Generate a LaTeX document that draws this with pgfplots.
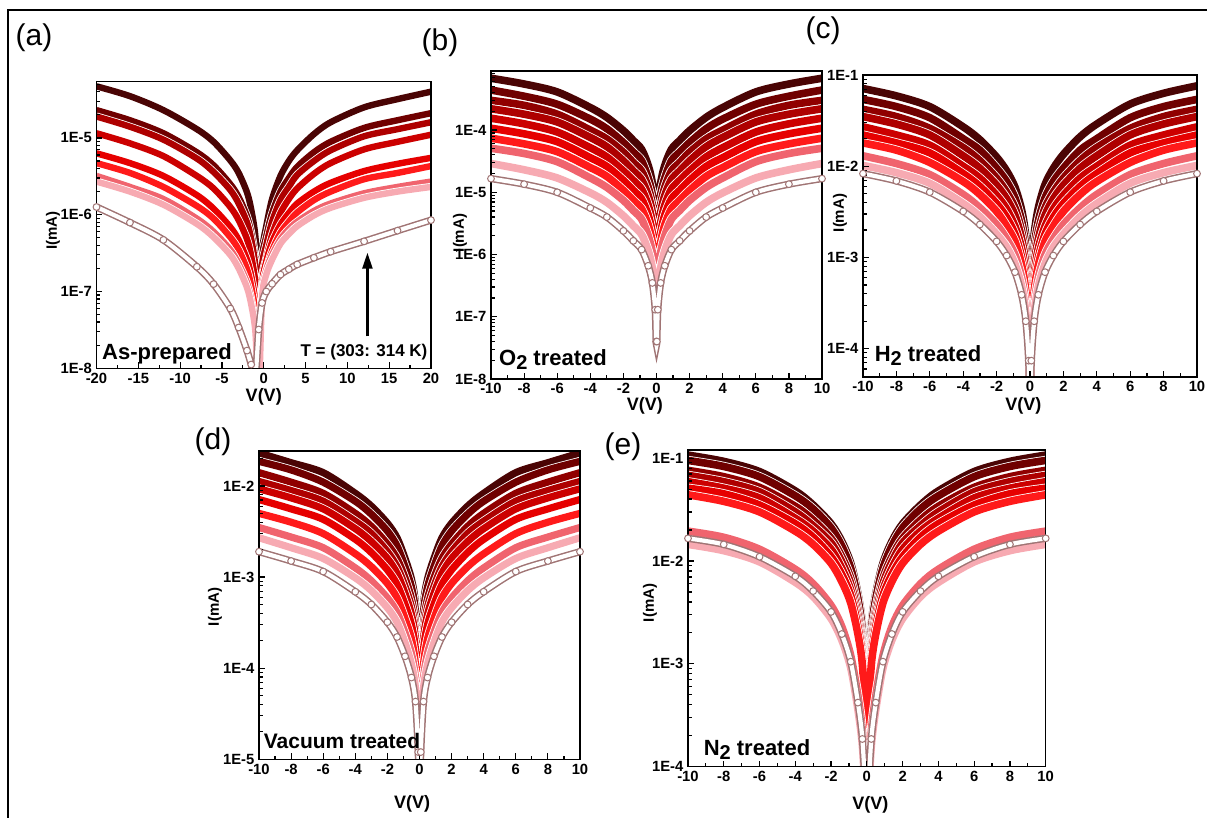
\documentclass[border=0pt]{standalone}
\usepackage{fontspec}
\setmainfont{Liberation Sans}
\usepackage{pgfplots}
\pgfplotsset{compat=1.18}
\usepackage{pgfplotstable}
\usetikzlibrary{arrows.meta}

\definecolor{k1}{HTML}{4A0404}
\definecolor{k2}{HTML}{700000}
\definecolor{k3}{HTML}{900000}
\definecolor{k4}{HTML}{AE0000}
\definecolor{k5}{HTML}{CC0000}
\definecolor{k6}{HTML}{E60000}
\definecolor{k7}{HTML}{FF1A1A}
\definecolor{k8}{HTML}{F0646E}
\definecolor{k9}{HTML}{F7AAB2}
\definecolor{ocol}{HTML}{A07474}

% (a) as-prepared, V from -20 to 20
\pgfplotstableread{
V k1 k2 k4 k5 k6 k7 k8 k9 o
-20 4.7e-5 2.3e-5 1.9e-5 1.15e-5 6.3e-6 4.7e-6 3.2e-6 2.7e-6 1.26e-6
-16 3.5e-5 1.7e-5 1.4e-5 8.5e-6 4.7e-6 3.5e-6 2.3e-6 2.0e-6 7.9e-7
-12 2.3e-5 1.15e-5 9.5e-6 5.8e-6 3.2e-6 2.3e-6 1.6e-6 1.35e-6 4.7e-7
-8 1.3e-5 6.5e-6 5.4e-6 3.2e-6 1.8e-6 1.3e-6 8.9e-7 7.6e-7 2.1e-7
-6 8.9e-6 4.4e-6 3.6e-6 2.2e-6 1.2e-6 8.9e-7 6.0e-7 5.1e-7 1.25e-7
-4 5.1e-6 2.5e-6 2.1e-6 1.26e-6 6.9e-7 5.1e-7 3.5e-7 3.0e-7 6.0e-8
-3 3.5e-6 1.7e-6 1.4e-6 8.5e-7 4.7e-7 3.5e-7 2.3e-7 2.0e-7 3.4e-8
-2 1.95e-6 9.5e-7 7.9e-7 4.8e-7 2.6e-7 1.95e-7 1.3e-7 1.12e-7 1.7e-8
-1.5 1.17e-6 5.8e-7 4.8e-7 2.9e-7 1.6e-7 1.17e-7 7.9e-8 6.8e-8 1.12e-8
-1 5.2e-7 2.6e-7 2.1e-7 1.3e-7 7.1e-8 5.2e-8 3.5e-8 3.0e-8 7.9e-9
-0.6 1.0e-7 5.0e-8 4.0e-8 3.2e-8 1.6e-8 1.0e-8 6.3e-9 5.0e-9 3.2e-8
-0.2 3.5e-7 2.8e-7 2.2e-7 1.5e-7 1.23e-7 9.5e-8 9.5e-8 8.3e-8 7.1e-8
0.3 7.1e-7 5.2e-7 4.0e-7 2.7e-7 2.45e-7 1.9e-7 1.9e-7 1.66e-7 1.0e-7
1 1.6e-6 1.05e-6 8.1e-7 5.5e-7 4.4e-7 3.4e-7 3.0e-7 2.6e-7 1.26e-7
2 3.2e-6 2.0e-6 1.55e-6 1.05e-6 7.4e-7 5.8e-7 4.8e-7 4.2e-7 1.66e-7
3 5.0e-6 3.0e-6 2.3e-6 1.6e-6 1.05e-6 8.1e-7 6.5e-7 5.6e-7 1.95e-7
4 6.9e-6 4.2e-6 3.3e-6 2.2e-6 1.4e-6 1.07e-6 8.1e-7 7.1e-7 2.25e-7
6 1.12e-5 6.5e-6 5.0e-6 3.4e-6 2.0e-6 1.55e-6 1.12e-6 9.8e-7 2.75e-7
8 1.6e-5 8.9e-6 6.9e-6 4.7e-6 2.6e-6 2.0e-6 1.4e-6 1.23e-6 3.3e-7
12 2.5e-5 1.35e-5 1.05e-5 7.1e-6 3.7e-6 2.9e-6 1.9e-6 1.66e-6 4.5e-7
16 3.2e-5 1.7e-5 1.3e-5 8.9e-6 4.6e-6 3.5e-6 2.3e-6 2.0e-6 6.2e-7
20 4.0e-5 2.1e-5 1.6e-5 1.1e-5 5.5e-6 4.3e-6 2.7e-6 2.3e-6 8.5e-7
}\tabA

% (b) O2 treated
\pgfplotstableread{
V k1 k2 k3 k4 k5 k6 k7 k8 k9 o
-10 6.8e-4 4.4e-4 3.0e-4 2.2e-4 1.55e-4 1.07e-4 7.4e-5 5.1e-5 2.9e-5 1.66e-5
-8 5.5e-4 3.5e-4 2.5e-4 1.8e-4 1.26e-4 8.7e-5 6.0e-5 4.2e-5 2.3e-5 1.35e-5
-6 4.1e-4 2.6e-4 1.8e-4 1.35e-4 9.3e-5 6.5e-5 4.5e-5 3.1e-5 1.7e-5 1.0e-5
-4 2.3e-4 1.5e-4 1.0e-4 7.6e-5 5.2e-5 3.6e-5 2.5e-5 1.7e-5 9.8e-6 5.6e-6
-3 1.6e-4 1.05e-4 7.2e-5 5.4e-5 3.7e-5 2.6e-5 1.8e-5 1.2e-5 6.9e-6 4.0e-6
-2 9.8e-5 6.3e-5 4.4e-5 3.2e-5 2.2e-5 1.55e-5 1.07e-5 7.4e-6 4.2e-6 2.4e-6
-1.4 6.8e-5 4.4e-5 3.0e-5 2.2e-5 1.55e-5 1.07e-5 7.4e-6 5.1e-6 2.9e-6 1.66e-6
-0.9 4.9e-5 3.2e-5 2.2e-5 1.6e-5 1.12e-5 7.8e-6 5.4e-6 3.7e-6 2.1e-6 1.2e-6
-0.5 2.7e-5 1.7e-5 1.2e-5 8.9e-6 6.2e-6 4.3e-6 3.0e-6 2.0e-6 1.15e-6 6.6e-7
-0.25 1.4e-5 9.1e-6 6.3e-6 4.7e-6 3.2e-6 2.2e-6 1.55e-6 1.07e-6 6.0e-7 3.5e-7
-0.08 5.4e-6 3.5e-6 2.4e-6 1.8e-6 1.2e-6 8.5e-7 5.9e-7 4.1e-7 2.3e-7 1.3e-7
-0.02 1.6e-6 1.05e-6 7.2e-7 5.4e-7 3.6e-7 2.6e-7 1.8e-7 1.2e-7 7.0e-8 4.0e-8
0.02 1.6e-6 1.05e-6 7.2e-7 5.4e-7 3.6e-7 2.6e-7 1.8e-7 1.2e-7 7.0e-8 4.0e-8
0.08 5.4e-6 3.5e-6 2.4e-6 1.8e-6 1.2e-6 8.5e-7 5.9e-7 4.1e-7 2.3e-7 1.3e-7
0.25 1.4e-5 9.1e-6 6.3e-6 4.7e-6 3.2e-6 2.2e-6 1.55e-6 1.07e-6 6.0e-7 3.5e-7
0.5 2.7e-5 1.7e-5 1.2e-5 8.9e-6 6.2e-6 4.3e-6 3.0e-6 2.0e-6 1.15e-6 6.6e-7
0.9 4.9e-5 3.2e-5 2.2e-5 1.6e-5 1.12e-5 7.8e-6 5.4e-6 3.7e-6 2.1e-6 1.2e-6
1.4 6.8e-5 4.4e-5 3.0e-5 2.2e-5 1.55e-5 1.07e-5 7.4e-6 5.1e-6 2.9e-6 1.66e-6
2 9.8e-5 6.3e-5 4.4e-5 3.2e-5 2.2e-5 1.55e-5 1.07e-5 7.4e-6 4.2e-6 2.4e-6
3 1.6e-4 1.05e-4 7.2e-5 5.4e-5 3.7e-5 2.6e-5 1.8e-5 1.2e-5 6.9e-6 4.0e-6
4 2.3e-4 1.5e-4 1.0e-4 7.6e-5 5.2e-5 3.6e-5 2.5e-5 1.7e-5 9.8e-6 5.6e-6
6 4.1e-4 2.6e-4 1.8e-4 1.35e-4 9.3e-5 6.5e-5 4.5e-5 3.1e-5 1.7e-5 1.0e-5
8 5.5e-4 3.5e-4 2.5e-4 1.8e-4 1.26e-4 8.7e-5 6.0e-5 4.2e-5 2.3e-5 1.35e-5
10 6.8e-4 4.4e-4 3.0e-4 2.2e-4 1.55e-4 1.07e-4 7.4e-5 5.1e-5 2.9e-5 1.66e-5
}\tabB

% (c) H2 treated
\pgfplotstableread{
V k1 k2 k3 k4 k5 k6 k7 k8 k9 o
-10 7.1e-2 5.4e-2 4.2e-2 3.5e-2 2.7e-2 2.2e-2 1.8e-2 1.3e-2 1.02e-2 8.3e-3
-8 5.9e-2 4.5e-2 3.5e-2 2.9e-2 2.2e-2 1.8e-2 1.5e-2 1.07e-2 8.5e-3 6.9e-3
-6 4.5e-2 3.4e-2 2.6e-2 2.2e-2 1.7e-2 1.4e-2 1.1e-2 8.1e-3 6.5e-3 5.2e-3
-4 2.7e-2 2.0e-2 1.6e-2 1.3e-2 1.0e-2 8.3e-3 6.8e-3 4.9e-3 3.9e-3 3.2e-3
-3 1.95e-2 1.5e-2 1.15e-2 9.5e-3 7.4e-3 6.0e-3 4.9e-3 3.5e-3 2.8e-3 2.3e-3
-2 1.26e-2 9.5e-3 7.4e-3 6.2e-3 4.8e-3 3.9e-3 3.2e-3 2.3e-3 1.8e-3 1.5e-3
-1.4 8.9e-3 6.8e-3 5.2e-3 4.4e-3 3.4e-3 2.75e-3 2.2e-3 1.6e-3 1.3e-3 1.05e-3
-0.9 5.9e-3 4.5e-3 3.5e-3 2.9e-3 2.2e-3 1.8e-3 1.5e-3 1.07e-3 8.5e-4 6.9e-4
-0.5 3.3e-3 2.5e-3 1.95e-3 1.6e-3 1.26e-3 1.0e-3 8.3e-4 6.0e-4 4.8e-4 3.9e-4
-0.25 1.7e-3 1.3e-3 1.0e-3 8.3e-4 6.5e-4 5.2e-4 4.3e-4 3.1e-4 2.45e-4 2.0e-4
-0.08 6.3e-4 4.8e-4 3.7e-4 3.1e-4 2.4e-4 1.95e-4 1.6e-4 1.15e-4 9.1e-5 7.4e-5
-0.02 1.9e-4 1.45e-4 1.1e-4 9.3e-5 7.2e-5 5.9e-5 4.8e-5 3.5e-5 2.7e-5 2.2e-5
0.02 2.0e-4 1.45e-4 1.1e-4 9.3e-5 7.2e-5 5.9e-5 4.8e-5 3.5e-5 2.7e-5 2.2e-5
0.08 6.7e-4 4.8e-4 3.7e-4 3.1e-4 2.4e-4 1.95e-4 1.6e-4 1.15e-4 9.1e-5 7.4e-5
0.25 1.8e-3 1.3e-3 1.0e-3 8.3e-4 6.5e-4 5.2e-4 4.3e-4 3.1e-4 2.45e-4 2.0e-4
0.5 3.5e-3 2.5e-3 1.95e-3 1.6e-3 1.26e-3 1.0e-3 8.3e-4 6.0e-4 4.8e-4 3.9e-4
0.9 6.3e-3 4.5e-3 3.5e-3 2.9e-3 2.2e-3 1.8e-3 1.5e-3 1.07e-3 8.5e-4 6.9e-4
1.4 9.5e-3 6.8e-3 5.2e-3 4.4e-3 3.4e-3 2.75e-3 2.2e-3 1.6e-3 1.3e-3 1.05e-3
2 1.35e-2 9.5e-3 7.4e-3 6.2e-3 4.8e-3 3.9e-3 3.2e-3 2.3e-3 1.8e-3 1.5e-3
3 2.1e-2 1.5e-2 1.15e-2 9.5e-3 7.4e-3 6.0e-3 4.9e-3 3.5e-3 2.8e-3 2.3e-3
4 2.9e-2 2.0e-2 1.6e-2 1.3e-2 1.0e-2 8.3e-3 6.8e-3 4.9e-3 3.9e-3 3.2e-3
6 4.8e-2 3.4e-2 2.6e-2 2.2e-2 1.7e-2 1.4e-2 1.1e-2 8.1e-3 6.5e-3 5.2e-3
8 6.3e-2 4.5e-2 3.5e-2 2.9e-2 2.2e-2 1.8e-2 1.5e-2 1.07e-2 8.5e-3 6.9e-3
10 7.6e-2 5.4e-2 4.2e-2 3.5e-2 2.7e-2 2.2e-2 1.8e-2 1.3e-2 1.02e-2 8.3e-3
}\tabC

% (d) vacuum treated
\pgfplotstableread{
V k1 k2 k3 k4 k5 k6 k7 k8 k9 o
-10 2.3e-2 1.86e-2 1.4e-2 1.12e-2 9.3e-3 7.1e-3 5.0e-3 3.5e-3 2.7e-3 1.9e-3
-8 1.8e-2 1.5e-2 1.1e-2 8.9e-3 7.4e-3 5.6e-3 4.0e-3 2.75e-3 2.1e-3 1.5e-3
-6 1.4e-2 1.1e-2 8.3e-3 6.8e-3 5.6e-3 4.3e-3 3.0e-3 2.1e-3 1.6e-3 1.15e-3
-4 8.3e-3 6.8e-3 5.0e-3 4.1e-3 3.4e-3 2.6e-3 1.8e-3 1.26e-3 9.8e-4 6.9e-4
-3 6.0e-3 4.9e-3 3.6e-3 3.0e-3 2.45e-3 1.86e-3 1.3e-3 9.1e-4 7.1e-4 5.0e-4
-2 3.9e-3 3.2e-3 2.3e-3 1.9e-3 1.6e-3 1.2e-3 8.5e-4 5.9e-4 4.6e-4 3.2e-4
-1.4 2.7e-3 2.2e-3 1.6e-3 1.3e-3 1.1e-3 8.3e-4 5.9e-4 4.1e-4 3.2e-4 2.2e-4
-0.9 1.6e-3 1.3e-3 9.8e-4 7.9e-4 6.6e-4 5.0e-4 3.5e-4 2.45e-4 1.9e-4 1.35e-4
-0.5 9.5e-4 7.8e-4 5.8e-4 4.7e-4 3.9e-4 3.0e-4 2.1e-4 1.45e-4 1.1e-4 7.9e-5
-0.25 5.1e-4 4.2e-4 3.1e-4 2.5e-4 2.1e-4 1.6e-4 1.1e-4 7.8e-5 6.0e-5 4.3e-5
-0.08 1.45e-4 1.2e-4 8.7e-5 7.1e-5 5.9e-5 4.5e-5 3.2e-5 2.2e-5 1.7e-5 1.2e-5
-0.02 4.4e-5 3.6e-5 2.6e-5 2.1e-5 1.8e-5 1.35e-5 9.6e-6 6.6e-6 5.1e-6 3.6e-6
0.02 4.4e-5 3.6e-5 2.6e-5 2.1e-5 1.8e-5 1.35e-5 9.6e-6 6.6e-6 5.1e-6 3.6e-6
0.08 1.45e-4 1.2e-4 8.7e-5 7.1e-5 5.9e-5 4.5e-5 3.2e-5 2.2e-5 1.7e-5 1.2e-5
0.25 5.1e-4 4.2e-4 3.1e-4 2.5e-4 2.1e-4 1.6e-4 1.1e-4 7.8e-5 6.0e-5 4.3e-5
0.5 9.5e-4 7.8e-4 5.8e-4 4.7e-4 3.9e-4 3.0e-4 2.1e-4 1.45e-4 1.1e-4 7.9e-5
0.9 1.6e-3 1.3e-3 9.8e-4 7.9e-4 6.6e-4 5.0e-4 3.5e-4 2.45e-4 1.9e-4 1.35e-4
1.4 2.7e-3 2.2e-3 1.6e-3 1.3e-3 1.1e-3 8.3e-4 5.9e-4 4.1e-4 3.2e-4 2.2e-4
2 3.9e-3 3.2e-3 2.3e-3 1.9e-3 1.6e-3 1.2e-3 8.5e-4 5.9e-4 4.6e-4 3.2e-4
3 6.0e-3 4.9e-3 3.6e-3 3.0e-3 2.45e-3 1.86e-3 1.3e-3 9.1e-4 7.1e-4 5.0e-4
4 8.3e-3 6.8e-3 5.0e-3 4.1e-3 3.4e-3 2.6e-3 1.8e-3 1.26e-3 9.8e-4 6.9e-4
6 1.4e-2 1.1e-2 8.3e-3 6.8e-3 5.6e-3 4.3e-3 3.0e-3 2.1e-3 1.6e-3 1.15e-3
8 1.8e-2 1.5e-2 1.1e-2 8.9e-3 7.4e-3 5.6e-3 4.0e-3 2.75e-3 2.1e-3 1.5e-3
10 2.3e-2 1.86e-2 1.4e-2 1.12e-2 9.3e-3 7.1e-3 5.0e-3 3.5e-3 2.7e-3 1.9e-3
}\tabD

% (e) N2 treated
\pgfplotstableread{
V k1 k2 k3 k4 k5 k6 k7 k8 k9 o
-10 1.07e-1 9.5e-2 7.6e-2 6.8e-2 5.9e-2 5.1e-2 4.4e-2 1.95e-2 1.45e-2 1.66e-2
-8 9.3e-2 8.3e-2 6.6e-2 5.9e-2 5.1e-2 4.5e-2 3.8e-2 1.7e-2 1.26e-2 1.45e-2
-6 7.4e-2 6.6e-2 5.2e-2 4.7e-2 4.1e-2 3.5e-2 3.0e-2 1.3e-2 9.8e-3 1.1e-2
-4 4.8e-2 4.3e-2 3.4e-2 3.0e-2 2.6e-2 2.3e-2 1.95e-2 8.3e-3 6.2e-3 7.1e-3
-3 3.5e-2 3.2e-2 2.5e-2 2.2e-2 1.95e-2 1.7e-2 1.45e-2 6.0e-3 4.5e-3 5.1e-3
-2 2.3e-2 2.1e-2 1.66e-2 1.5e-2 1.3e-2 1.1e-2 9.5e-3 3.7e-3 2.75e-3 3.2e-3
-1.4 1.55e-2 1.4e-2 1.1e-2 9.8e-3 8.5e-3 7.4e-3 6.3e-3 2.3e-3 1.7e-3 1.95e-3
-0.9 9.5e-3 8.5e-3 6.8e-3 6.0e-3 5.2e-3 4.6e-3 3.9e-3 1.2e-3 9.1e-4 1.05e-3
-0.5 4.8e-3 4.3e-3 3.4e-3 3.0e-3 2.6e-3 2.3e-3 1.95e-3 4.9e-4 3.6e-4 4.2e-4
-0.25 2.4e-3 2.1e-3 1.7e-3 1.5e-3 1.3e-3 1.15e-3 9.8e-4 2.2e-4 1.6e-4 1.86e-4
-0.08 6.8e-4 6.0e-4 4.8e-4 4.3e-4 3.7e-4 3.2e-4 2.75e-4 6.2e-5 4.6e-5 5.2e-5
-0.02 2.0e-4 1.8e-4 1.45e-4 1.3e-4 1.1e-4 9.6e-5 8.3e-5 1.9e-5 1.4e-5 1.6e-5
0.02 2.0e-4 1.8e-4 1.45e-4 1.3e-4 1.1e-4 9.6e-5 8.3e-5 1.9e-5 1.4e-5 1.6e-5
0.08 6.8e-4 6.0e-4 4.8e-4 4.3e-4 3.7e-4 3.2e-4 2.75e-4 6.2e-5 4.6e-5 5.2e-5
0.25 2.4e-3 2.1e-3 1.7e-3 1.5e-3 1.3e-3 1.15e-3 9.8e-4 2.2e-4 1.6e-4 1.86e-4
0.5 4.8e-3 4.3e-3 3.4e-3 3.0e-3 2.6e-3 2.3e-3 1.95e-3 4.9e-4 3.6e-4 4.2e-4
0.9 9.5e-3 8.5e-3 6.8e-3 6.0e-3 5.2e-3 4.6e-3 3.9e-3 1.2e-3 9.1e-4 1.05e-3
1.4 1.55e-2 1.4e-2 1.1e-2 9.8e-3 8.5e-3 7.4e-3 6.3e-3 2.3e-3 1.7e-3 1.95e-3
2 2.3e-2 2.1e-2 1.66e-2 1.5e-2 1.3e-2 1.1e-2 9.5e-3 3.7e-3 2.75e-3 3.2e-3
3 3.5e-2 3.2e-2 2.5e-2 2.2e-2 1.95e-2 1.7e-2 1.45e-2 6.0e-3 4.5e-3 5.1e-3
4 4.8e-2 4.3e-2 3.4e-2 3.0e-2 2.6e-2 2.3e-2 1.95e-2 8.3e-3 6.2e-3 7.1e-3
6 7.4e-2 6.6e-2 5.2e-2 4.7e-2 4.1e-2 3.5e-2 3.0e-2 1.3e-2 9.8e-3 1.1e-2
8 9.3e-2 8.3e-2 6.6e-2 5.9e-2 5.1e-2 4.5e-2 3.8e-2 1.7e-2 1.26e-2 1.45e-2
10 1.07e-1 9.5e-2 7.6e-2 6.8e-2 5.9e-2 5.1e-2 4.4e-2 1.95e-2 1.45e-2 1.66e-2
}\tabE

% one thick band with a thin white seam round it
\newcommand{\band}[4]{%
  \addplot[white, line width=#4, smooth] table[x=V, y=#2] {#1};
  \addplot[#2, line width=#3, smooth] table[x=V, y=#2] {#1};}
% open-circle series: hollow tube with circles at the points
\newcommand{\opencirc}[1]{%
  \addplot[ocol, line width=3.6pt, smooth] table[x=V, y=o] {#1};
  \addplot[white, line width=2.1pt, smooth] table[x=V, y=o] {#1};
  \addplot[only marks, mark=*, mark size=1.7pt, mark options={draw=ocol, fill=white, line width=0.5pt}] table[x=V, y=o] {#1};}
\newcommand{\sub}[1]{\raisebox{-0.35ex}{\fontsize{10}{10}\selectfont #1}}

\pgfplotsset{
  every axis/.append style={
    scale only axis, anchor=south west,
    axis on top,
    axis line style={line width=0.7pt},
    tick style={black, line width=0.6pt},
    major tick length=3pt, minor tick length=1.8pt,
    xtick pos=bottom, ytick pos=left, tick align=inside,
    ticklabel style={font=\fontsize{7.4}{8}\selectfont\bfseries, inner sep=1.5pt},
    xticklabel style={yshift=-0.6pt},
    yticklabel style={xshift=-0.6pt},
    xlabel style={font=\fontsize{9}{10}\selectfont\bfseries, anchor=center},
    ylabel style={font=\fontsize{7.5}{8}\selectfont\bfseries, anchor=center},
    minor x tick num=1,
  },
}

\begin{document}
\begin{tikzpicture}
\path[use as bounding box] (0,0) rectangle (603.5pt,409pt);
\draw[line width=1pt] (4pt,0pt) -- (4pt,404pt) -- (603.5pt,404pt);

% (a)
\begin{axis}[ymode=log, at={(48.25pt,224.85pt)}, width=167.25pt, height=143.3pt,
  xmin=-20, xmax=20, ymin=1e-8, ymax=5.4e-5,
  xtick={-20,-15,...,20}, xticklabels={-20,-15,-10,-5,0,5,10,15,20},
  ytick={1e-8,1e-7,1e-6,1e-5}, yticklabels={1E-8,1E-7,1E-6,1E-5},
  minor ytick={2e-8,3e-8,4e-8,5e-8,6e-8,7e-8,8e-8,9e-8,2e-7,3e-7,4e-7,5e-7,6e-7,7e-7,8e-7,9e-7,2e-6,3e-6,4e-6,5e-6,6e-6,7e-6,8e-6,9e-6,2e-5,3e-5,4e-5,5e-5},
  xlabel={V(V)}, ylabel={I(mA)},
  xlabel style={at={(axis description cs:0.5,-0.098)}},
  ylabel style={at={(axis description cs:-0.13,0.48)}}]
\pgfplotsinvokeforeach{k1,k2,k4,k5,k6,k7,k8,k9}{\band{\tabA}{#1}{3.2pt}{4pt}}
\opencirc{\tabA}
\draw[line width=1.2pt, -{Triangle[width=5pt,length=8pt]}] (axis cs:12.4,2.6e-8) -- (axis cs:12.4,3.2e-7);
\end{axis}

% (b)
\begin{axis}[ymode=log, at={(245.5pt,219.5pt)}, width=165.5pt, height=154pt,
  xmin=-10, xmax=10, xtick={-10,-8,...,10},
  xticklabels={-10,-8,-6,-4,-2,0,2,4,6,8,10},
  ymin=1e-8, ymax=8.9e-4,
  ytick={1e-8,1e-7,1e-6,1e-5,1e-4}, yticklabels={1E-8,1E-7,1E-6,1E-5,1E-4},
  minor ytick={2e-8,3e-8,4e-8,5e-8,6e-8,7e-8,8e-8,9e-8,2e-7,3e-7,4e-7,5e-7,6e-7,7e-7,8e-7,9e-7,2e-6,3e-6,4e-6,5e-6,6e-6,7e-6,8e-6,9e-6,2e-5,3e-5,4e-5,5e-5,6e-5,7e-5,8e-5,9e-5,2e-4,3e-4,4e-4,5e-4,6e-4,7e-4,8e-4},
  xlabel={V(V)}, ylabel={I(mA)},
  xlabel style={at={(axis description cs:0.465,-0.088)}},
  ylabel style={at={(axis description cs:-0.094,0.474)}}]
\pgfplotsinvokeforeach{k1,k2,k3,k4,k5,k6,k7,k8,k9}{\band{\tabB}{#1}{3.8pt}{4.6pt}}
\opencirc{\tabB}
\end{axis}

% (c)
\begin{axis}[ymode=log, at={(431.5pt,220.5pt)}, width=167pt, height=151pt,
  xmin=-10, xmax=10, xtick={-10,-8,...,10},
  xticklabels={-10,-8,-6,-4,-2,0,2,4,6,8,10},
  ymin=4.9e-5, ymax=1e-1,
  ytick={1e-4,1e-3,1e-2,1e-1}, yticklabels={1E-4,1E-3,1E-2,1E-1},
  minor ytick={5e-5,6e-5,7e-5,8e-5,9e-5,2e-4,3e-4,4e-4,5e-4,6e-4,7e-4,8e-4,9e-4,2e-3,3e-3,4e-3,5e-3,6e-3,7e-3,8e-3,9e-3,2e-2,3e-2,4e-2,5e-2,6e-2,7e-2,8e-2,9e-2},
  xlabel={V(V)}, ylabel={I(mA)},
  xlabel style={at={(axis description cs:0.48,-0.096)}},
  ylabel style={at={(axis description cs:-0.069,0.543)}}]
\pgfplotsinvokeforeach{k1,k2,k3,k4,k5,k6,k7,k8,k9}{\band{\tabC}{#1}{3.8pt}{4.6pt}}
\opencirc{\tabC}
\end{axis}

% (d)
\begin{axis}[ymode=log, at={(129.5pt,29.35pt)}, width=160.5pt, height=154.15pt,
  xmin=-10, xmax=10, xtick={-10,-8,...,10},
  xticklabels={-10,-8,-6,-4,-2,0,2,4,6,8,10},
  ymin=1e-5, ymax=2.42e-2,
  ytick={1e-5,1e-4,1e-3,1e-2}, yticklabels={1E-5,1E-4,1E-3,1E-2},
  minor ytick={2e-5,3e-5,4e-5,5e-5,6e-5,7e-5,8e-5,9e-5,2e-4,3e-4,4e-4,5e-4,6e-4,7e-4,8e-4,9e-4,2e-3,3e-3,4e-3,5e-3,6e-3,7e-3,8e-3,9e-3,2e-2},
  xlabel={V(V)}, ylabel={I(mA)},
  xlabel style={at={(axis description cs:0.477,-0.143)}},
  ylabel style={at={(axis description cs:-0.137,0.494)}}]
\pgfplotsinvokeforeach{k1,k2,k3,k4,k5,k6,k7,k8,k9}{\band{\tabD}{#1}{3.6pt}{4.4pt}}
\opencirc{\tabD}
\end{axis}

% (e)
\begin{axis}[ymode=log, at={(344pt,25.65pt)}, width=178.85pt, height=158.35pt,
  xmin=-10, xmax=10, xtick={-10,-8,...,10},
  xticklabels={-10,-8,-6,-4,-2,0,2,4,6,8,10},
  ymin=1e-4, ymax=1.2e-1,
  ytick={1e-4,1e-3,1e-2,1e-1}, yticklabels={1E-4,1E-3,1E-2,1E-1},
  minor ytick={2e-4,3e-4,4e-4,5e-4,6e-4,7e-4,8e-4,9e-4,2e-3,3e-3,4e-3,5e-3,6e-3,7e-3,8e-3,9e-3,2e-2,3e-2,4e-2,5e-2,6e-2,7e-2,8e-2,9e-2},
  xlabel={V(V)}, ylabel={I(mA)},
  xlabel style={at={(axis description cs:0.51,-0.12)}},
  ylabel style={at={(axis description cs:-0.106,0.517)}}]
\pgfplotsinvokeforeach{k1,k2,k3,k4,k5,k6,k7,k8,k9}{\band{\tabE}{#1}{3.8pt}{4.6pt}}
\opencirc{\tabE}
\end{axis}

% panel letters
\begin{scope}[every node/.style={font=\fontsize{15}{15}\selectfont}]
\node at (17pt,390pt) {(a)};
\node at (220pt,387.5pt) {(b)};
\node at (411.5pt,393.5pt) {(c)};
\node at (106.5pt,188pt) {(d)};
\node at (311.5pt,185.5pt) {(e)};
\end{scope}

% sample labels
\begin{scope}[every node/.style={font=\fontsize{11}{11}\selectfont\bfseries, inner sep=0pt}]
\node at (83.5pt,232pt) {As-prepared};
\node at (276.5pt,229pt) {O\sub{2} treated};
\node at (464pt,231pt) {H\sub{2} treated};
\node[font=\fontsize{10.5}{11}\selectfont\bfseries] at (171pt,38.5pt) {Vacuum treated};
\node at (378.5pt,34pt) {N\sub{2} treated};
\end{scope}
\node[font=\fontsize{8.5}{9}\selectfont\bfseries, inner sep=0pt] at (182pt,233pt) {T = (303: 314 K)};
\end{tikzpicture}
\end{document}
